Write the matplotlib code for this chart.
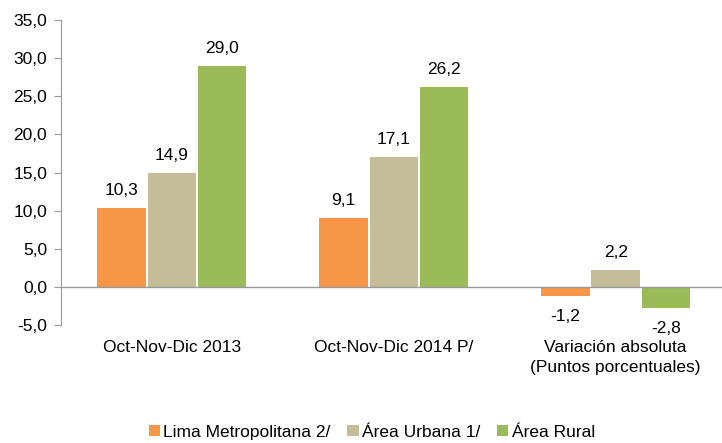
import numpy as np
import matplotlib.pyplot as plt

plt.rcParams['font.family'] = ['Liberation Sans', 'DejaVu Sans']

categories = ['Oct-Nov-Dic 2013', 'Oct-Nov-Dic 2014 P/',
              'Variación absoluta\n(Puntos porcentuales)']
series_names = ['Lima Metropolitana 2/', 'Área Urbana 1/', 'Área Rural']
lima = [10.3, 9.1, -1.2]
urbana = [14.9, 17.1, 2.2]
rural = [29.0, 26.2, -2.8]
colors = ['#F79646', '#C4BD97', '#9BBB59']


def fmt(v):
    return f"{v:.1f}".replace('.', ',')


fs = 12.5
fig = plt.figure(figsize=(7.22, 4.43), dpi=100)
ax = fig.add_axes([0.0845, 0.266, 0.922, 0.689])

x = np.arange(len(categories))
width = 0.226
for i, (vals, name) in enumerate(zip([lima, urbana, rural], series_names)):
    pos = x + (i - 1) * width
    ax.bar(pos, vals, width * 0.97, color=colors[i], label=name)
    for p, v in zip(pos, vals):
        if v >= 0:
            ax.text(p, v + 1.3, fmt(v), ha='center', va='bottom', fontsize=fs)
        else:
            ax.text(p, v - 1.7, fmt(v), ha='center', va='top', fontsize=fs)

ax.set_xlim(-0.5, 2.5)
ax.set_ylim(-5, 35)
ax.set_yticks(np.arange(-5, 36, 5))
ax.set_yticklabels([fmt(t) for t in np.arange(-5, 36, 5)], fontsize=fs)
ax.axhline(0, color='#999999', lw=1)

for s in ['top', 'right', 'bottom']:
    ax.spines[s].set_visible(False)
ax.spines['left'].set_color('#999999')
ax.tick_params(axis='y', color='#999999', length=5, pad=5)
ax.set_xticks([])

for xi, lab in zip(x, categories):
    ax.text(xi, -7.0, lab, ha='center', va='top', fontsize=fs,
            linespacing=1.4)

fig.legend(loc='lower center', bbox_to_anchor=(0.515, -0.028), ncol=3,
           frameon=False, fontsize=fs, handlelength=0.65, handleheight=0.65,
           handletextpad=0.2, columnspacing=0.95)

fig.savefig('out.png', dpi=100)
